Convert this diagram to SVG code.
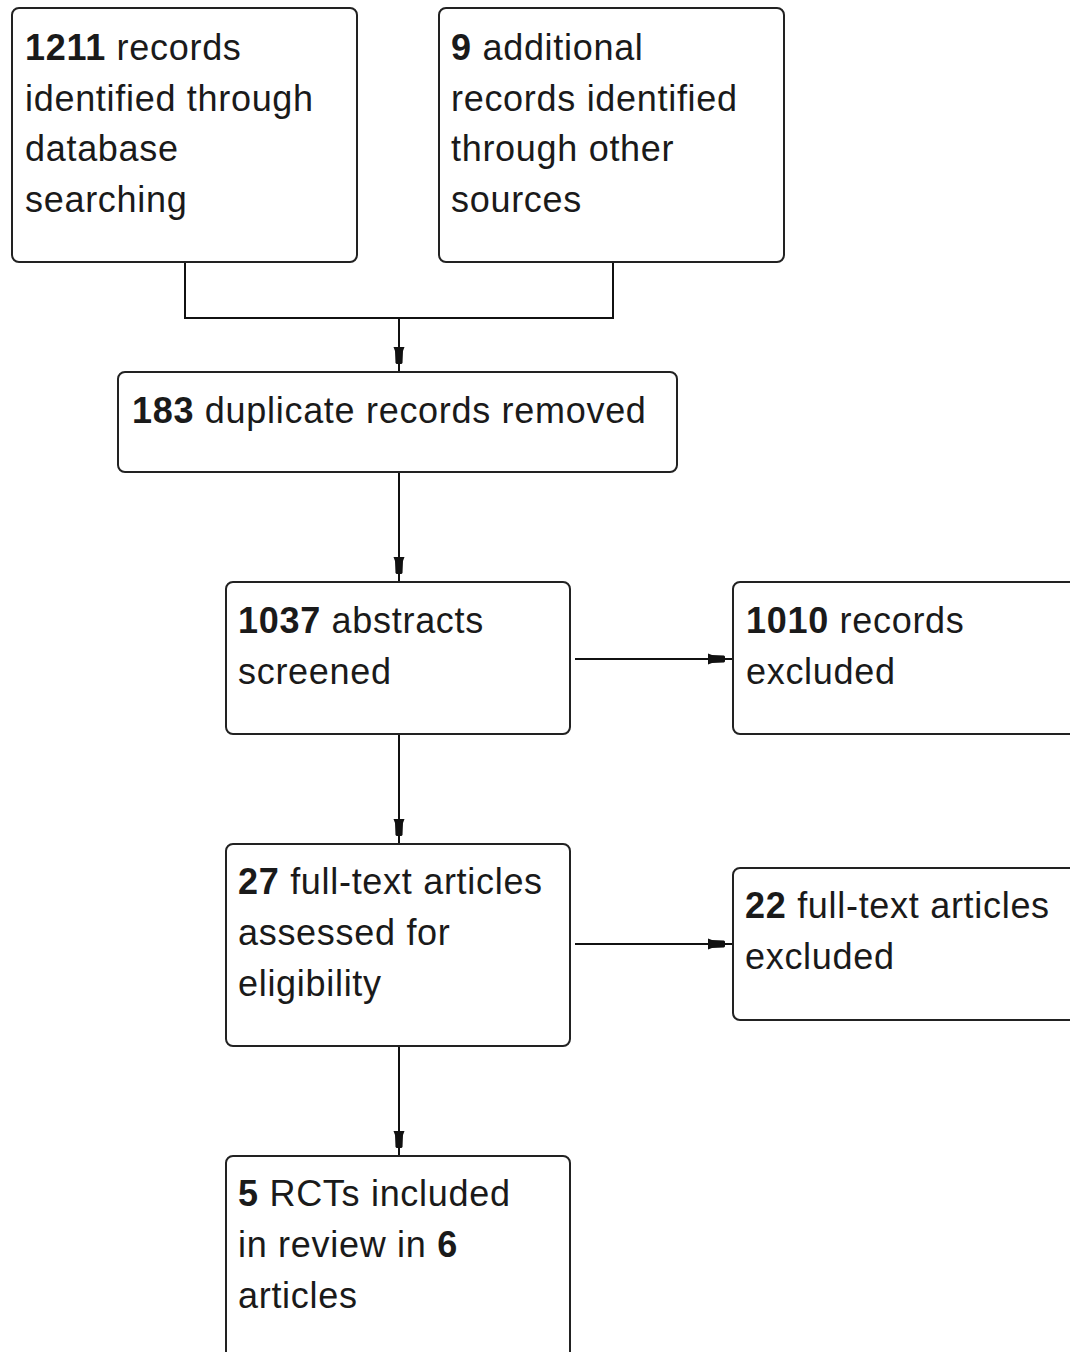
<svg xmlns="http://www.w3.org/2000/svg" width="1070" height="1352" viewBox="0 0 1070 1352">
<defs>
<style>
.box{fill:#fff;stroke:#222;stroke-width:2}
.t{font-family:"Liberation Sans",Arial,sans-serif;font-size:36px;fill:#1a1a1a;letter-spacing:0.7px}
.b{font-weight:bold}
.c{fill:none;stroke:#111;stroke-width:2}
</style>
<marker id="ah" viewBox="0 0 24 12" refX="24" refY="6" markerWidth="24" markerHeight="12" markerUnits="userSpaceOnUse" orient="auto">
<path d="M0,0.5 L4,2 L16,2.5 L17,3.5 L17,8.5 L16,9.5 L4,10 L0,11.5 Z" fill="#111"/>
</marker>
</defs>
<rect width="1070" height="1352" fill="#fff"/>
<g id="connectors">
<polyline class="c" points="185,262 185,318 613,318 613,262"/>
<line class="c" x1="399" y1="318" x2="399" y2="371" marker-end="url(#ah)"/>
<line class="c" x1="399" y1="472" x2="399" y2="581" marker-end="url(#ah)"/>
<line class="c" x1="575" y1="659" x2="732" y2="659" marker-end="url(#ah)"/>
<line class="c" x1="399" y1="734" x2="399" y2="843" marker-end="url(#ah)"/>
<line class="c" x1="575" y1="944" x2="732" y2="944" marker-end="url(#ah)"/>
<line class="c" x1="399" y1="1046" x2="399" y2="1155" marker-end="url(#ah)"/>
</g>
<g id="n1">
<rect class="box" x="12" y="8" width="345" height="254" rx="7"/>
<text class="t" x="25" y="60"><tspan class="b">1211</tspan> records</text>
<text class="t" x="25" y="111">identified through</text>
<text class="t" x="25" y="161">database</text>
<text class="t" x="25" y="212">searching</text>
</g>
<g id="n2">
<rect class="box" x="439" y="8" width="345" height="254" rx="7"/>
<text class="t" x="451" y="60"><tspan class="b">9</tspan> additional</text>
<text class="t" x="451" y="111">records identified</text>
<text class="t" x="451" y="161">through other</text>
<text class="t" x="451" y="212">sources</text>
</g>
<g id="n3">
<rect class="box" x="118" y="372" width="559" height="100" rx="7"/>
<text class="t" x="132" y="423"><tspan class="b">183</tspan> duplicate records removed</text>
</g>
<g id="n4">
<rect class="box" x="226" y="582" width="344" height="152" rx="7"/>
<text class="t" x="238" y="633"><tspan class="b">1037</tspan> abstracts</text>
<text class="t" x="238" y="684">screened</text>
</g>
<g id="n5">
<rect class="box" x="733" y="582" width="360" height="152" rx="7"/>
<text class="t" x="746" y="633"><tspan class="b">1010</tspan> records</text>
<text class="t" x="746" y="684">excluded</text>
</g>
<g id="n6">
<rect class="box" x="226" y="844" width="344" height="202" rx="7"/>
<text class="t" x="238" y="894"><tspan class="b">27</tspan> full-text articles</text>
<text class="t" x="238" y="945">assessed for</text>
<text class="t" x="238" y="996">eligibility</text>
</g>
<g id="n7">
<rect class="box" x="733" y="868" width="360" height="152" rx="7"/>
<text class="t" x="745" y="918"><tspan class="b">22</tspan> full-text articles</text>
<text class="t" x="745" y="969">excluded</text>
</g>
<g id="n8">
<rect class="box" x="226" y="1156" width="344" height="220" rx="7"/>
<text class="t" x="238" y="1206"><tspan class="b">5</tspan> RCTs included</text>
<text class="t" x="238" y="1257">in review in <tspan class="b">6</tspan></text>
<text class="t" x="238" y="1308">articles</text>
</g>
</svg>
